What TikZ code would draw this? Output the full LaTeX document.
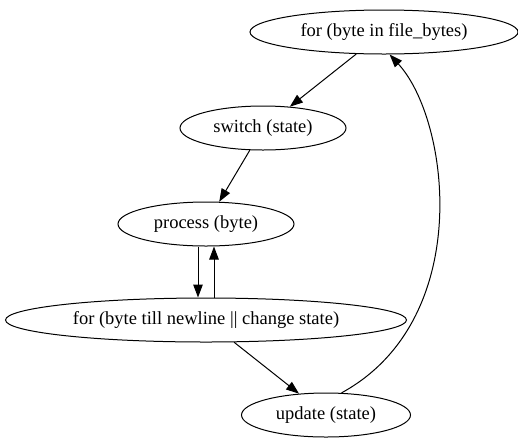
\documentclass[tikz,border=0pt]{standalone}
\usepackage{fontspec}
\setmainfont{Liberation Serif}
\usetikzlibrary{shapes.geometric,arrows.meta}

\begin{document}
\begin{tikzpicture}[x=1pt,y=-1pt,line width=1pt,
	state/.style={draw,ellipse,inner sep=0pt,minimum height=44pt,font=\fontsize{18.5}{21}\selectfont},
	flow/.style={-{Triangle[length=13pt,width=9.5pt]}}]
	\useasboundingbox (0,0) rectangle (518,445);
	
	\node[state,minimum width=268pt] (forfile) at (384,32) {for (byte in file\_bytes)};
	\node[state,minimum width=166pt] (switch) at (263,128) {switch (state)};
	\node[state,minimum width=176pt] (process) at (206,224) {process (byte)};
	\node[state,minimum width=401pt] (forline) at (206,320) {for (byte till newline || change state)};
	\node[state,minimum width=169pt] (update) at (326,415) {update (state)};
	
	\draw[flow] (forfile) -- (switch);
	\draw[flow] (switch) -- (process);
	\draw[flow] ([xshift=-8pt]process.south) -- ([xshift=-8pt]forline.north);
	\draw[flow] ([xshift=8pt]forline.north) -- ([xshift=8pt]process.south);
	\draw[flow] (forline) -- (update);
	\draw[flow] (update.55) .. controls (475,320) and (450,120) .. (forfile.-76);
\end{tikzpicture}
\end{document}
